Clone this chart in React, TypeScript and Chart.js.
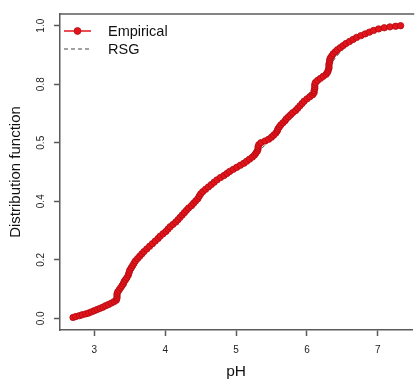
import React, { useEffect, useRef } from "react";
import { Chart, registerables } from "chart.js";

Chart.register(...registerables);

// Empirical distribution function (pH observations, ties stacked)
const empX = [
  2.70, 2.74, 2.79, 2.83, 2.88, 2.92, 2.96, 3.00, 3.04, 3.08, 3.12, 3.16, 3.20, 3.24, 3.28, 3.31,
  3.32, 3.32, 3.32, 3.33, 3.35, 3.37, 3.39, 3.41, 3.42, 3.44, 3.46, 3.48, 3.49, 3.50, 3.52, 3.54,
  3.56, 3.58, 3.61, 3.64, 3.67, 3.70, 3.74, 3.78, 3.82, 3.86, 3.90, 3.93, 3.97, 4.01, 4.04, 4.07,
  4.11, 4.15, 4.18, 4.21, 4.24, 4.27, 4.30, 4.33, 4.37, 4.40, 4.43, 4.46, 4.48, 4.50, 4.53, 4.57,
  4.61, 4.65, 4.69, 4.73, 4.78, 4.83, 4.87, 4.91, 4.96, 5.01, 5.06, 5.11, 5.15, 5.19, 5.23, 5.26,
  5.28, 5.30, 5.31, 5.31, 5.32, 5.35, 5.41, 5.46, 5.50, 5.53, 5.56, 5.58, 5.59, 5.61, 5.63, 5.66,
  5.69, 5.71, 5.74, 5.77, 5.80, 5.84, 5.87, 5.90, 5.93, 5.96, 6.00, 6.04, 6.08, 6.10, 6.10, 6.11,
  6.11, 6.11, 6.12, 6.15, 6.19, 6.23, 6.27, 6.29, 6.30, 6.31, 6.31, 6.31, 6.32, 6.32, 6.33, 6.35,
  6.37, 6.40, 6.43, 6.47, 6.51, 6.55, 6.60, 6.65, 6.70, 6.76, 6.82, 6.88, 6.94, 7.01, 7.09, 7.17,
  7.25, 7.32,
];
const empY = [
  0.003, 0.006, 0.009, 0.012, 0.015, 0.018, 0.022, 0.026, 0.030, 0.034, 0.038, 0.043, 0.047, 0.052, 0.057, 0.062,
  0.069, 0.076, 0.083, 0.090, 0.097, 0.104, 0.111, 0.118, 0.125, 0.132, 0.139, 0.148, 0.156, 0.164, 0.172, 0.180,
  0.188, 0.196, 0.204, 0.212, 0.220, 0.228, 0.237, 0.246, 0.255, 0.264, 0.273, 0.281, 0.289, 0.297, 0.305, 0.313,
  0.321, 0.329, 0.337, 0.345, 0.353, 0.361, 0.369, 0.377, 0.385, 0.393, 0.401, 0.409, 0.417, 0.425, 0.433, 0.441,
  0.449, 0.457, 0.465, 0.473, 0.481, 0.488, 0.495, 0.502, 0.509, 0.516, 0.523, 0.530, 0.537, 0.544, 0.551, 0.558,
  0.565, 0.572, 0.579, 0.586, 0.593, 0.600, 0.606, 0.612, 0.619, 0.626, 0.633, 0.640, 0.647, 0.654, 0.661, 0.668,
  0.675, 0.682, 0.689, 0.696, 0.703, 0.710, 0.718, 0.726, 0.734, 0.742, 0.750, 0.757, 0.764, 0.771, 0.778, 0.785,
  0.792, 0.799, 0.806, 0.813, 0.820, 0.827, 0.834, 0.841, 0.848, 0.855, 0.862, 0.869, 0.876, 0.883, 0.890, 0.897,
  0.904, 0.911, 0.918, 0.925, 0.932, 0.939, 0.946, 0.953, 0.960, 0.966, 0.972, 0.978, 0.984, 0.989, 0.993, 0.996,
  0.998, 1.000,
];

// Fitted RSG distribution function
const rsgX = [
  2.70, 2.80, 2.90, 3.00, 3.10, 3.20, 3.30, 3.40, 3.50, 3.60, 3.70, 3.80, 3.90, 4.00, 4.20, 4.40,
  4.60, 4.80, 5.00, 5.20, 5.40, 5.60, 5.80, 6.00, 6.10, 6.20, 6.30, 6.40, 6.50, 6.60, 6.70, 6.80,
  6.90, 7.00, 7.10, 7.20, 7.32,
];
const rsgY = [
  0.004, 0.009, 0.016, 0.025, 0.036, 0.050, 0.070, 0.105, 0.150, 0.190, 0.222, 0.248, 0.272, 0.294, 0.338, 0.387,
  0.440, 0.480, 0.512, 0.545, 0.590, 0.645, 0.702, 0.760, 0.790, 0.822, 0.856, 0.890, 0.918, 0.940, 0.958, 0.972,
  0.982, 0.989, 0.994, 0.997, 0.999,
];

const xTickValues = [3, 4, 5, 6, 7];
const yTickValues = [0, 0.2, 0.4, 0.6, 0.8, 1.0];
const yTickLabels = ["0.0", "0.2", "0.4", "0.5", "0.8", "1.0"];

const seriesNames = ["Empirical", "RSG"];
const xTitle = "pH";
const yTitle = "Distribution function";

const FONT = "'Liberation Sans', Arial, Helvetica, sans-serif";
const AXIS_COLOR = "#5a5a5a";
const RED = "#e3141c";
const RED_EDGE = "#b00a10";
const DASH_COLOR = "#444444";

export default function App() {
  const canvasRef = useRef<HTMLCanvasElement | null>(null);

  useEffect(() => {
    const canvas = canvasRef.current;
    if (!canvas) return;

    const overlay = {
      id: "overlay",
      afterDraw(chart: any) {
        const { ctx, chartArea, scales } = chart;
        const ys = scales.y;
        ctx.save();
        // top border of the box
        ctx.strokeStyle = AXIS_COLOR;
        ctx.lineWidth = 1.5;
        ctx.beginPath();
        ctx.moveTo(chartArea.left, chartArea.top);
        ctx.lineTo(chartArea.right + 2, chartArea.top);
        ctx.stroke();

        // y tick labels (rotated, parallel to axis)
        ctx.fillStyle = "#222";
        ctx.font = `10px ${FONT}`;
        ctx.textAlign = "center";
        ctx.textBaseline = "middle";
        yTickValues.forEach((v, i) => {
          const py = ys.getPixelForValue(v);
          ctx.save();
          ctx.translate(41, py);
          ctx.rotate(-Math.PI / 2);
          ctx.fillText(yTickLabels[i], 0, 0);
          ctx.restore();
        });

        // axis titles
        ctx.fillStyle = "#111";
        ctx.font = `15px ${FONT}`;
        ctx.save();
        ctx.translate(16, (chartArea.top + chartArea.bottom) / 2);
        ctx.rotate(-Math.PI / 2);
        ctx.fillText(yTitle, 0, 0);
        ctx.restore();
        ctx.font = `15.5px ${FONT}`;
        ctx.fillText(xTitle, (chartArea.left + chartArea.right) / 2, 372);

        // legend
        const lx0 = chartArea.left + 4;
        const lx1 = chartArea.left + 31;
        const ly1 = chartArea.top + 17;
        const ly2 = chartArea.top + 35;
        ctx.strokeStyle = RED;
        ctx.lineWidth = 1.5;
        ctx.beginPath();
        ctx.moveTo(lx0, ly1);
        ctx.lineTo(lx1, ly1);
        ctx.stroke();
        ctx.fillStyle = RED;
        ctx.strokeStyle = RED_EDGE;
        ctx.lineWidth = 0.8;
        ctx.beginPath();
        ctx.arc((lx0 + lx1) / 2, ly1, 3.4, 0, Math.PI * 2);
        ctx.fill();
        ctx.stroke();
        ctx.strokeStyle = DASH_COLOR;
        ctx.lineWidth = 1;
        ctx.setLineDash([4, 3]);
        ctx.beginPath();
        ctx.moveTo(lx0, ly2);
        ctx.lineTo(lx1, ly2);
        ctx.stroke();
        ctx.setLineDash([]);
        ctx.fillStyle = "#111";
        ctx.font = `14.5px ${FONT}`;
        ctx.textAlign = "left";
        ctx.fillText(seriesNames[0], chartArea.left + 48, ly1 + 1);
        ctx.fillText(seriesNames[1], chartArea.left + 48, ly2 + 1);
        ctx.restore();
      },
    };

    const chart = new Chart(canvas, {
      type: "scatter",
      data: {
        datasets: [
          {
            label: seriesNames[0],
            data: empX.map((x, i) => ({ x, y: empY[i] })),
            showLine: true,
            borderColor: RED,
            borderWidth: 1.6,
            pointRadius: 3.2,
            pointBackgroundColor: RED,
            pointBorderColor: RED_EDGE,
            pointBorderWidth: 0.8,
            order: 0,
          },
          {
            label: seriesNames[1],
            data: rsgX.map((x, i) => ({ x, y: rsgY[i] })),
            showLine: true,
            borderColor: DASH_COLOR,
            borderWidth: 1,
            borderDash: [4, 3],
            pointRadius: 0,
            tension: 0.3,
            order: 1,
          },
        ],
      },
      options: {
        animation: false,
        responsive: false,
        devicePixelRatio: 1,
        layout: { padding: { top: 14, left: 0, right: 0, bottom: 0 } },
        plugins: { legend: { display: false }, tooltip: { enabled: false } },
        scales: {
          x: {
            type: "linear",
            min: 2.516,
            max: 7.484,
            afterBuildTicks: (s: any) => {
              s.ticks = xTickValues.map((v) => ({ value: v }));
            },
            afterFit: (s: any) => {
              s.height = 50;
            },
            border: { display: true, color: AXIS_COLOR, width: 1.5 },
            grid: { drawOnChartArea: false, drawTicks: true, tickLength: 6, tickColor: AXIS_COLOR, tickWidth: 1.5 },
            ticks: {
              color: "#222",
              font: { family: FONT, size: 10 },
              padding: 8,
              maxRotation: 0,
              callback: (v: any) => String(v),
            },
          },
          y: {
            type: "linear",
            min: -0.04,
            max: 1.04,
            afterBuildTicks: (s: any) => {
              s.ticks = yTickValues.map((v) => ({ value: v }));
            },
            afterFit: (s: any) => {
              s.width = 60;
            },
            border: { display: true, color: AXIS_COLOR, width: 1.5 },
            grid: { drawOnChartArea: false, drawTicks: true, tickLength: 6, tickColor: AXIS_COLOR, tickWidth: 1.5 },
            ticks: { display: false },
          },
        },
      },
      plugins: [overlay],
    } as any);

    return () => chart.destroy();
  }, []);

  return (
    <div style={{ position: "absolute", left: 0, top: 0, width: 417, height: 380, background: "#fff" }}>
      <canvas ref={canvasRef} width={417} height={380} style={{ display: "block" }} />
    </div>
  );
}
